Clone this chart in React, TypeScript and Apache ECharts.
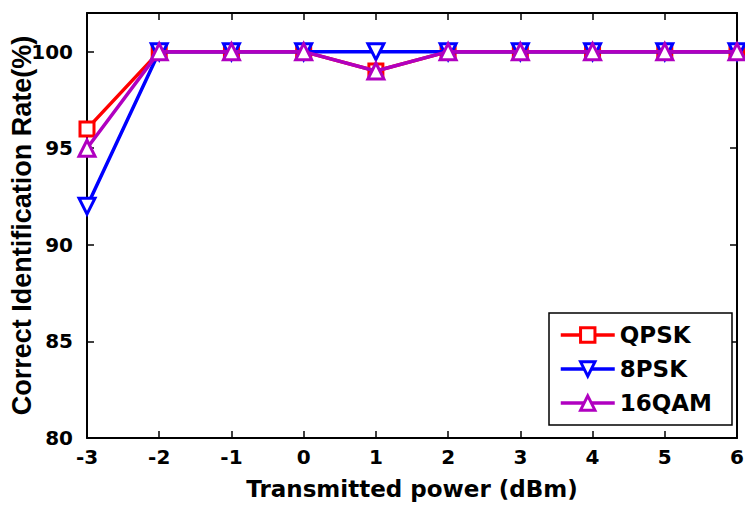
import React, { useEffect, useRef } from "react";
import * as echarts from "echarts";

const xValues = [-3, -2, -1, 0, 1, 2, 3, 4, 5, 6];
const qpsk = [96, 100, 100, 100, 99, 100, 100, 100, 100, 100];
const psk8 = [92, 100, 100, 100, 100, 100, 100, 100, 100, 100];
const qam16 = [95, 100, 100, 100, 99, 100, 100, 100, 100, 100];
const seriesNames = ["QPSK", "8PSK", "16QAM"];
const xTitle = "Transmitted power (dBm)";
const yTitle = "Correct Identification Rate(%)";

const FONT = "DejaVu Sans";

export default function App() {
  const ref = useRef<HTMLDivElement>(null);
  useEffect(() => {
    if (!ref.current) return;
    const chart = echarts.init(ref.current, null, { renderer: "svg" });
    const pairs = (ys: number[]) => xValues.map((x, i) => [x, ys[i]]);
    const mk = (name: string, ys: number[], color: string, symbol: string, size: number, rotate = 0, z = 2) => ({
      name,
      type: "line",
      data: pairs(ys),
      symbol,
      symbolSize: size,
      symbolRotate: rotate,
      showAllSymbol: true,
      z,
      lineStyle: { color, width: 3.5 },
      itemStyle: { color: "#fff", borderColor: color, borderWidth: 3 },
      emphasis: { disabled: true },
    });
    const axisCommon = {
      axisLine: { show: true, onZero: false, lineStyle: { color: "#000", width: 2 } },
      axisTick: { show: true, inside: true, length: 7, lineStyle: { color: "#000", width: 1.5 } },
      splitLine: { show: false },
    };
    chart.setOption({
      animation: false,
      backgroundColor: "#fff",
      grid: { left: 87, right: 8, top: 13, bottom: 67, containLabel: false, outerBoundsMode: "none" },
      xAxis: [
        {
          type: "value",
          min: -3,
          max: 6,
          interval: 1,
          ...axisCommon,
          axisLabel: { color: "#000", fontFamily: FONT, fontWeight: "bold", fontSize: 20, margin: 9 },
          name: xTitle,
          nameLocation: "middle",
          nameGap: 39,
          nameMoveOverlap: false,
          nameTextStyle: { color: "#000", fontFamily: FONT, fontWeight: "bold", fontSize: 23 },
        },
        {
          type: "value",
          position: "top",
          min: -3,
          max: 6,
          interval: 1,
          ...axisCommon,
          axisLabel: { show: false },
        },
      ],
      yAxis: [
        {
          type: "value",
          min: 80,
          max: 102,
          interval: 5,
          ...axisCommon,
          axisLabel: {
            color: "#000",
            fontFamily: FONT,
            fontWeight: "bold",
            fontSize: 20,
            margin: 14,
            formatter: (v: number) => (v > 100 ? "" : String(v)),
          },
          name: yTitle,
          nameLocation: "middle",
          nameGap: 52,
          nameMoveOverlap: false,
          nameTextStyle: { color: "#000", fontFamily: "Liberation Sans", fontWeight: "bold", fontSize: 27 },
        },
        {
          type: "value",
          position: "right",
          min: 80,
          max: 102,
          interval: 5,
          ...axisCommon,
          axisLabel: { show: false },
        },
      ],
      legend: {
        data: seriesNames,
        orient: "vertical",
        left: 549,
        top: 313,
        padding: [10, 20, 10, 10],
        itemWidth: 54,
        itemHeight: 18,
        itemGap: 10,
        itemTextGap: 4,
        backgroundColor: "#fff",
        borderColor: "#000",
        borderWidth: 1.5,
        borderRadius: 0,
        lineStyle: { width: 3.5 },
        itemStyle: { borderWidth: 3 },
        textStyle: { color: "#000", fontFamily: FONT, fontWeight: "bold", fontSize: 23, lineHeight: 24 },
      },
      series: [
        mk(seriesNames[0], qpsk, "#ff0000", "rect", 14, 0, 2),
        mk(seriesNames[1], psk8, "#0000ff", "triangle", 16, 180, 3),
        mk(seriesNames[2], qam16, "#b000c0", "triangle", 16, 0, 4),
      ],
    });
    return () => chart.dispose();
  }, []);
  return <div ref={ref} style={{ width: 745, height: 505, position: "absolute", left: 0, top: 0 }} />;
}
